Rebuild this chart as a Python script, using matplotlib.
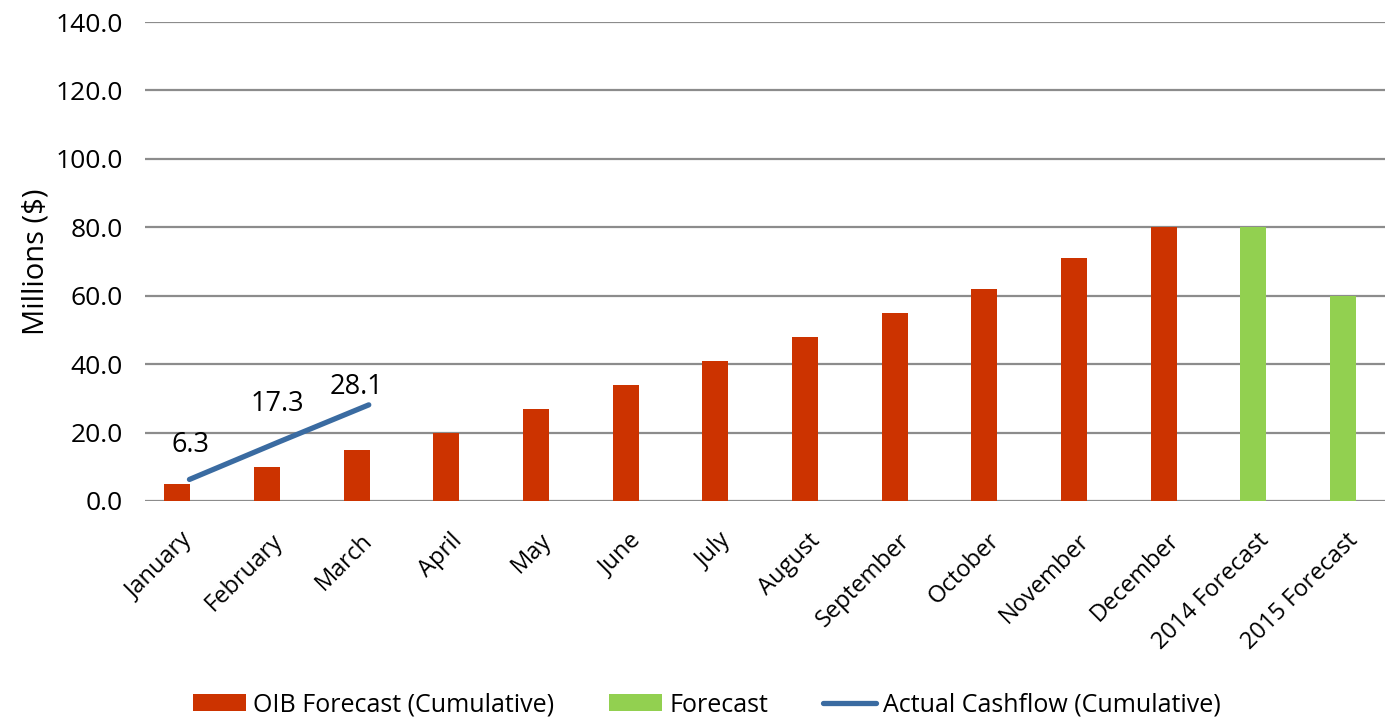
import matplotlib
matplotlib.use("Agg")
import matplotlib.pyplot as plt
from matplotlib.patches import Patch
from matplotlib.lines import Line2D

# ---- data ----
categories = ["January", "February", "March", "April", "May", "June", "July",
              "August", "September", "October", "November", "December",
              "2014 Forecast", "2015 Forecast"]
oib_forecast = [5, 10, 15, 20, 27, 34, 41, 48, 55, 62, 71, 80, None, None]
forecast = [None] * 12 + [80, 60]
actual_cashflow = [6.3, 17.3, 28.1]
y_ticks = [0, 20, 40, 60, 80, 100, 120, 140]

RED = "#CC3300"
GREEN = "#92D050"
BLUE = "#3A6BA1"
GRID = "#8C8C8C"

plt.rcParams["font.family"] = ["Open Sans", "DejaVu Sans"]

W, H = 1385, 719
fig = plt.figure(figsize=(W / 100, H / 100), dpi=100)
ax = fig.add_axes([145 / W, 218 / H, 1 - 145 / W, 479 / H])

x = list(range(len(categories)))
bar_shift = -0.134
bar_w = 0.29

red_x = [i + bar_shift for i, v in zip(x, oib_forecast) if v is not None]
red_v = [v for v in oib_forecast if v is not None]
grn_x = [i + bar_shift for i, v in zip(x, forecast) if v is not None]
grn_v = [v for v in forecast if v is not None]

ax.bar(red_x, red_v, width=bar_w, color=RED, zorder=3)
ax.bar(grn_x, grn_v, width=bar_w, color=GREEN, zorder=3)

line_x = x[:len(actual_cashflow)]
ax.plot(line_x, actual_cashflow, color=BLUE, lw=3.8,
        solid_capstyle="round", zorder=4)

# value labels above the cashflow line
label_offsets = [(1, 34), (-1.5, 38), (-12, 18)]
for xi, v, off in zip(line_x, actual_cashflow, label_offsets):
    ax.annotate(f"{v:.1f}", (xi, v), xytext=off, textcoords="offset pixels",
                ha="center", va="center", fontsize=19.5, color="black", zorder=5)

ax.set_ylim(0, 140)
ax.set_yticks(y_ticks)
ax.set_yticklabels([f"{t:.1f}" for t in y_ticks], fontsize=19)
ax.set_xlim(-0.496, (W - 189.5) / 89.65)
ax.set_xticks(x)
ax.set_xticklabels(categories, rotation=45, ha="right", va="center",
                   rotation_mode="anchor", fontsize=17)
ax.tick_params(axis="both", length=0)
ax.tick_params(axis="x", pad=26)
ax.tick_params(axis="y", pad=16)

ax.yaxis.grid(True, color=GRID, lw=1.6, zorder=0)
ax.set_axisbelow(True)
for s in ax.spines.values():
    s.set_visible(False)

ax.set_ylabel("Millions ($)", fontsize=21)
ax.yaxis.set_label_coords(-0.076, 0.5)

handles = [Patch(facecolor=RED, edgecolor="none"),
           Patch(facecolor=GREEN, edgecolor="none"),
           Line2D([0], [0], color=BLUE, lw=3.8, solid_capstyle="round")]
labels = ["OIB Forecast (Cumulative)", "Forecast", "Actual Cashflow (Cumulative)"]
fig.legend(handles, labels, loc="center left", bbox_to_anchor=(193 / W, 14 / H),
           ncol=3, frameon=False, fontsize=18, borderpad=0, borderaxespad=0,
           handlelength=2.12, handleheight=0.64, handletextpad=0.28,
           columnspacing=2.2)

fig.savefig("out.png", dpi=100)
